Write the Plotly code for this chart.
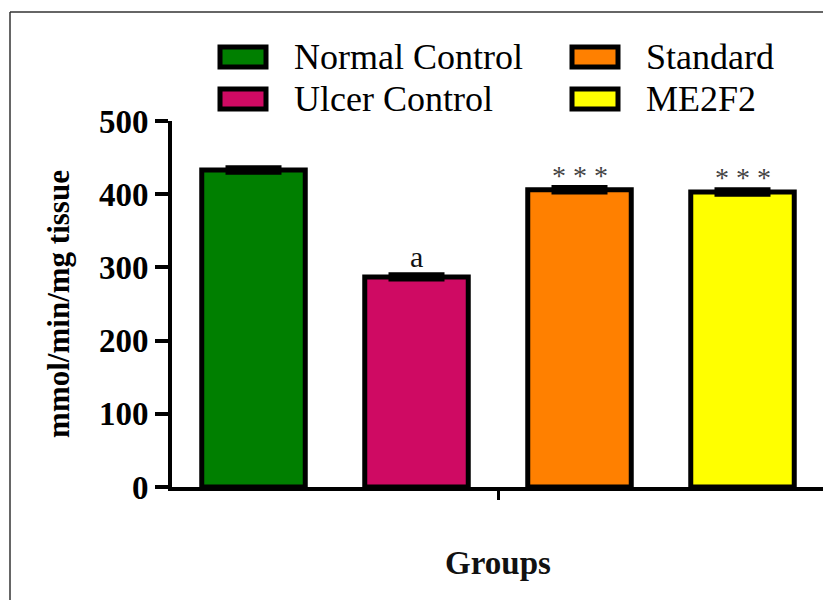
import plotly.graph_objects as go

# ---- data ----
groups = ["Normal Control", "Ulcer Control", "Standard", "ME2F2"]
values = [433, 287, 406, 403]
errors = [3, 3, 3, 3]
colors = ["#007F00", "#CF0A63", "#FF8000", "#FFFF00"]
sig_labels = ["", "a", "* * *", "* * *"]
y_ticks = [0, 100, 200, 300, 400, 500]

W, H = 831, 600
OFF = 8  # page offset of the figure inside the browser window
L, R, T, B = 164, 15, 113, 121
PW, PH = W - L - R, H - T - B

def px(x):
    # screen pixel x -> paper coordinate
    return (x - OFF - L) / PW

def py(y):
    # screen pixel y -> paper coordinate
    return (H - B - (y - OFF)) / PH

SERIF = "Liberation Serif, Times New Roman, serif"

xs = list(range(len(groups)))

fig = go.Figure()
fig.add_trace(go.Bar(
    x=xs, y=values,
    width=0.635,
    marker=dict(color=colors, line=dict(color="black", width=5)),
    error_y=dict(type="data", array=errors, visible=True,
                 color="black", thickness=5, width=28),
    showlegend=False,
))

# significance labels
for xi, v, e, lab in zip(xs, values, errors, sig_labels):
    if not lab:
        continue
    is_star = "*" in lab
    fig.add_annotation(
        x=xi, y=v + e, xref="x", yref="y",
        text=lab, showarrow=False, yanchor="bottom",
        yshift=(-5 if is_star else 0),
        font=dict(family=SERIF, size=(28 if is_star else 30),
                  color=("#444444" if is_star else "#111111")),
    )

# manual legend (2 x 2)
legend_pos = [(218, 57), (218, 99), (570, 57), (570, 99)]
for (sx, sy), name, col in zip(legend_pos, groups, colors):
    fig.add_shape(type="rect", xref="paper", yref="paper",
                  x0=px(sx + 2), x1=px(sx + 48), y0=py(sy + 10), y1=py(sy - 10),
                  fillcolor=col, line=dict(color="black", width=5))
    fig.add_annotation(xref="paper", yref="paper", x=px(sx + 74), y=py(sy),
                       xanchor="left", yanchor="middle", showarrow=False,
                       text=name, font=dict(family=SERIF, size=36, color="black"))

# outer frame (top and left edges)
fig.add_shape(type="line", xref="paper", yref="paper",
              x0=px(10), x1=px(W + 20), y0=py(12), y1=py(12),
              line=dict(color="#333333", width=1.5))
fig.add_shape(type="line", xref="paper", yref="paper",
              x0=px(10), x1=px(10), y0=py(12), y1=py(H + 20),
              line=dict(color="#333333", width=1.5))

fig.update_layout(
    width=W, height=H,
    margin=dict(l=L, r=R, t=T, b=B),
    paper_bgcolor="white", plot_bgcolor="white",
    font=dict(family=SERIF, color="black"),
    xaxis=dict(
        range=[-0.5, 3.5], tickvals=[1.5], ticktext=[""],
        ticks="outside", ticklen=9, tickwidth=3, tickcolor="black",
        showline=True, linecolor="black", linewidth=4,
        showgrid=False, zeroline=False,
        title=dict(text="Groups", standoff=50,
                   font=dict(family=SERIF, size=33, weight="bold", color="#111111")),
    ),
    yaxis=dict(
        range=[0, 500], tickvals=y_ticks,
        ticks="outside", ticklen=13, tickwidth=4, tickcolor="black",
        showline=True, linecolor="black", linewidth=4,
        showgrid=False, zeroline=False,
        tickfont=dict(family=SERIF, size=33, weight="bold", color="black"),
        title=dict(text="mmol/min/mg tissue", standoff=21,
                   font=dict(family=SERIF, size=31, weight="bold", color="black")),
    ),
)

fig.write_html("out.html")
